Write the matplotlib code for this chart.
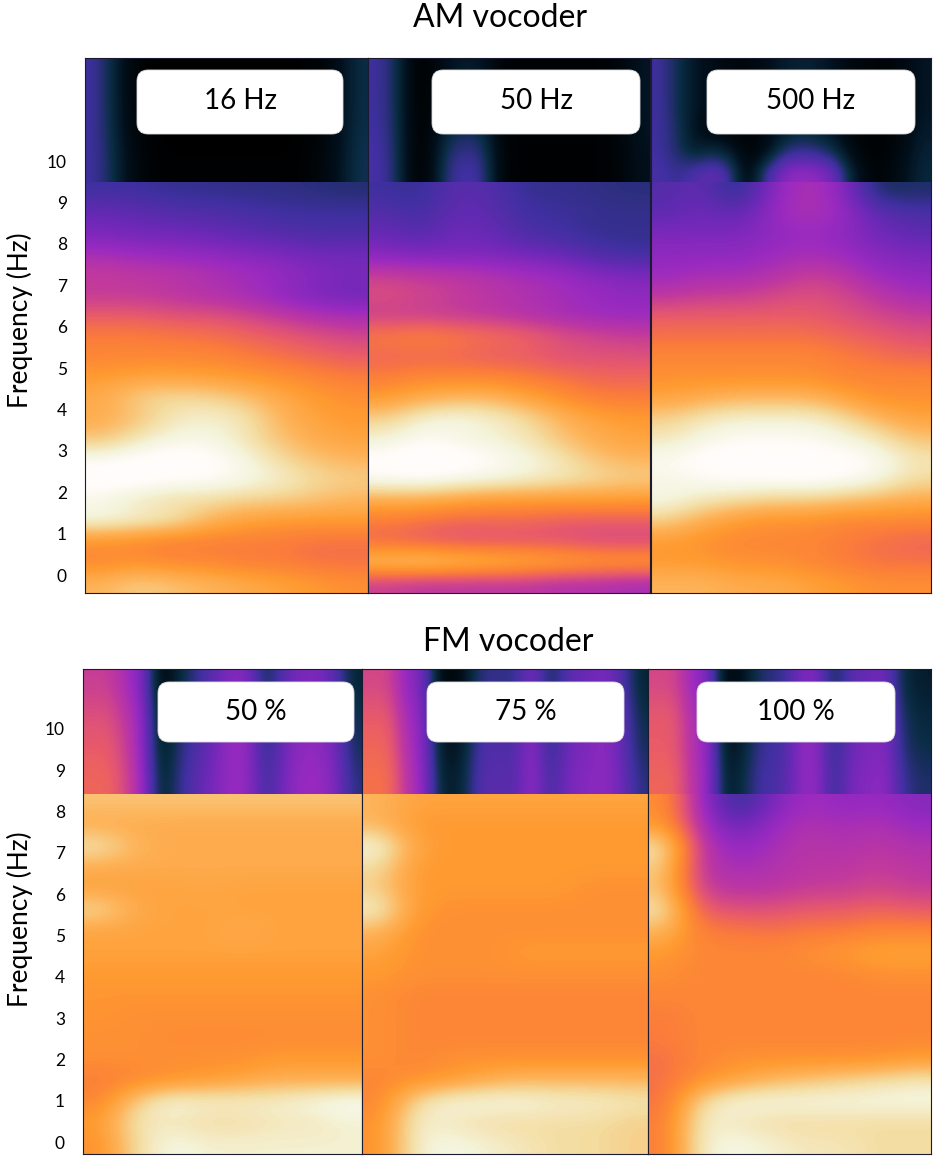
import numpy as np
import matplotlib
matplotlib.use("Agg")
import matplotlib.pyplot as plt
from matplotlib.colors import LinearSegmentedColormap
from matplotlib.patches import FancyBboxPatch

# ---------------- data (intensity 0..1) ----------------
titles = ["AM vocoder", "FM vocoder"]
am_labels = ["16 Hz", "50 Hz", "500 Hz"]
fm_labels = ["50 %", "75 %", "100 %"]
tick_values = list(range(11))
tick_labels = [str(v) for v in tick_values]
ylabel_text = "Frequency (Hz)"

# AM panels: rows top (9.25) -> bottom (-0.25), 8 time columns
am16_lo = [
    [0.30, 0.30, 0.28, 0.28, 0.27, 0.27, 0.26, 0.25],
    [0.38, 0.36, 0.34, 0.33, 0.32, 0.30, 0.30, 0.30],
    [0.42, 0.40, 0.40, 0.38, 0.36, 0.34, 0.32, 0.32],
    [0.50, 0.48, 0.47, 0.46, 0.44, 0.42, 0.40, 0.40],
    [0.56, 0.55, 0.54, 0.52, 0.50, 0.48, 0.44, 0.42],
    [0.55, 0.55, 0.54, 0.52, 0.50, 0.46, 0.42, 0.40],
    [0.62, 0.62, 0.60, 0.60, 0.58, 0.55, 0.52, 0.50],
    [0.68, 0.68, 0.67, 0.66, 0.64, 0.62, 0.60, 0.58],
    [0.70, 0.70, 0.70, 0.70, 0.68, 0.66, 0.64, 0.62],
    [0.74, 0.76, 0.76, 0.75, 0.74, 0.72, 0.70, 0.68],
    [0.78, 0.84, 0.86, 0.85, 0.82, 0.78, 0.74, 0.72],
    [0.78, 0.82, 0.88, 0.90, 0.88, 0.80, 0.76, 0.74],
    [0.82, 0.88, 0.92, 0.92, 0.88, 0.82, 0.78, 0.76],
    [0.94, 0.96, 0.97, 0.96, 0.92, 0.86, 0.82, 0.80],
    [0.97, 0.97, 0.95, 0.95, 0.93, 0.90, 0.86, 0.84],
    [0.92, 0.88, 0.86, 0.86, 0.84, 0.84, 0.82, 0.80],
    [0.92, 0.90, 0.88, 0.80, 0.76, 0.74, 0.74, 0.74],
    [0.72, 0.70, 0.68, 0.68, 0.68, 0.68, 0.66, 0.66],
    [0.70, 0.72, 0.70, 0.70, 0.68, 0.68, 0.66, 0.66],
    [0.80, 0.84, 0.82, 0.80, 0.78, 0.76, 0.74, 0.72],
]
am16_hi = [
    [0.30, 0.20, 0.05, 0.01, 0.00, 0.00, 0.00, 0.00, 0.00, 0.00, 0.00, 0.00, 0.01, 0.03, 0.10, 0.20],
    [0.30, 0.20, 0.05, 0.01, 0.00, 0.00, 0.00, 0.00, 0.00, 0.00, 0.00, 0.00, 0.01, 0.03, 0.10, 0.20],
    [0.30, 0.22, 0.08, 0.03, 0.01, 0.01, 0.01, 0.01, 0.01, 0.01, 0.01, 0.01, 0.02, 0.05, 0.12, 0.22],
]
am50_lo = [
    [0.30, 0.28, 0.36, 0.34, 0.28, 0.28, 0.27, 0.26],
    [0.34, 0.30, 0.38, 0.36, 0.30, 0.30, 0.28, 0.28],
    [0.38, 0.34, 0.40, 0.38, 0.32, 0.30, 0.28, 0.28],
    [0.44, 0.42, 0.42, 0.42, 0.40, 0.38, 0.32, 0.30],
    [0.56, 0.55, 0.54, 0.52, 0.50, 0.48, 0.44, 0.42],
    [0.60, 0.58, 0.56, 0.54, 0.52, 0.50, 0.48, 0.46],
    [0.56, 0.56, 0.55, 0.54, 0.52, 0.50, 0.48, 0.48],
    [0.68, 0.70, 0.68, 0.66, 0.64, 0.60, 0.58, 0.56],
    [0.64, 0.64, 0.64, 0.62, 0.62, 0.60, 0.60, 0.60],
    [0.68, 0.70, 0.70, 0.70, 0.68, 0.66, 0.64, 0.64],
    [0.74, 0.78, 0.80, 0.80, 0.76, 0.72, 0.68, 0.68],
    [0.84, 0.90, 0.92, 0.90, 0.86, 0.80, 0.76, 0.74],
    [0.90, 0.94, 0.92, 0.90, 0.88, 0.82, 0.78, 0.76],
    [0.96, 0.98, 0.97, 0.95, 0.92, 0.88, 0.82, 0.80],
    [0.94, 0.95, 0.93, 0.92, 0.90, 0.88, 0.86, 0.84],
    [0.78, 0.78, 0.76, 0.74, 0.74, 0.74, 0.74, 0.74],
    [0.68, 0.66, 0.64, 0.64, 0.64, 0.62, 0.62, 0.62],
    [0.64, 0.62, 0.60, 0.60, 0.60, 0.60, 0.58, 0.58],
    [0.84, 0.86, 0.84, 0.82, 0.80, 0.78, 0.76, 0.76],
    [0.56, 0.54, 0.54, 0.54, 0.54, 0.52, 0.52, 0.50],
]
am50_hi = [
    [0.30, 0.24, 0.03, 0.02, 0.10, 0.14, 0.12, 0.03, 0.01, 0.01, 0.01, 0.01, 0.01, 0.02, 0.05, 0.12],
    [0.30, 0.24, 0.03, 0.02, 0.14, 0.18, 0.16, 0.03, 0.01, 0.01, 0.01, 0.01, 0.01, 0.02, 0.05, 0.12],
    [0.32, 0.26, 0.03, 0.04, 0.28, 0.32, 0.30, 0.05, 0.01, 0.01, 0.01, 0.01, 0.01, 0.02, 0.04, 0.10],
]
am500_lo = [
    [0.34, 0.38, 0.24, 0.46, 0.52, 0.46, 0.22, 0.24],
    [0.36, 0.40, 0.36, 0.48, 0.52, 0.48, 0.36, 0.32],
    [0.42, 0.42, 0.42, 0.46, 0.48, 0.46, 0.40, 0.36],
    [0.46, 0.46, 0.46, 0.48, 0.50, 0.48, 0.44, 0.42],
    [0.48, 0.50, 0.50, 0.52, 0.56, 0.54, 0.48, 0.46],
    [0.54, 0.56, 0.56, 0.58, 0.60, 0.58, 0.54, 0.50],
    [0.62, 0.62, 0.62, 0.62, 0.62, 0.60, 0.58, 0.56],
    [0.66, 0.66, 0.66, 0.66, 0.66, 0.64, 0.62, 0.60],
    [0.70, 0.70, 0.70, 0.70, 0.70, 0.68, 0.66, 0.64],
    [0.72, 0.72, 0.72, 0.72, 0.72, 0.70, 0.70, 0.70],
    [0.76, 0.78, 0.80, 0.80, 0.80, 0.76, 0.72, 0.72],
    [0.84, 0.88, 0.90, 0.90, 0.90, 0.86, 0.80, 0.76],
    [0.88, 0.92, 0.94, 0.94, 0.94, 0.92, 0.88, 0.82],
    [0.94, 0.96, 0.97, 0.97, 0.96, 0.96, 0.94, 0.88],
    [0.92, 0.94, 0.95, 0.95, 0.96, 0.95, 0.92, 0.86],
    [0.92, 0.88, 0.86, 0.84, 0.84, 0.82, 0.80, 0.78],
    [0.84, 0.78, 0.74, 0.72, 0.72, 0.70, 0.70, 0.70],
    [0.74, 0.72, 0.70, 0.70, 0.70, 0.68, 0.66, 0.64],
    [0.74, 0.74, 0.72, 0.72, 0.70, 0.68, 0.66, 0.66],
    [0.80, 0.80, 0.78, 0.78, 0.76, 0.74, 0.72, 0.72],
]
am500_hi = [
    [0.30, 0.22, 0.12, 0.08, 0.05, 0.04, 0.08, 0.14, 0.16, 0.15, 0.10, 0.05, 0.03, 0.03, 0.06, 0.12],
    [0.30, 0.22, 0.12, 0.08, 0.05, 0.04, 0.08, 0.14, 0.16, 0.15, 0.10, 0.05, 0.03, 0.03, 0.06, 0.12],
    [0.30, 0.22, 0.12, 0.08, 0.05, 0.04, 0.08, 0.14, 0.16, 0.15, 0.10, 0.05, 0.03, 0.03, 0.06, 0.12],
    [0.30, 0.24, 0.10, 0.04, 0.02, 0.02, 0.06, 0.12, 0.18, 0.16, 0.10, 0.04, 0.02, 0.02, 0.06, 0.14],
    [0.30, 0.24, 0.14, 0.20, 0.14, 0.02, 0.05, 0.24, 0.28, 0.26, 0.20, 0.05, 0.02, 0.02, 0.08, 0.16],
    [0.32, 0.28, 0.34, 0.38, 0.32, 0.03, 0.30, 0.44, 0.48, 0.46, 0.40, 0.16, 0.03, 0.04, 0.10, 0.18],
]

# FM panels: lower rows top (8.2) -> bottom (0.0), 8 time columns
fm50_lo = [
    [0.82, 0.82, 0.82, 0.82, 0.82, 0.82, 0.82, 0.82],
    [0.78, 0.78, 0.78, 0.78, 0.78, 0.78, 0.78, 0.78],
    [0.88, 0.80, 0.78, 0.78, 0.78, 0.78, 0.78, 0.78],
    [0.78, 0.78, 0.78, 0.78, 0.78, 0.78, 0.78, 0.78],
    [0.76, 0.76, 0.76, 0.77, 0.76, 0.76, 0.76, 0.76],
    [0.86, 0.78, 0.76, 0.76, 0.76, 0.76, 0.76, 0.76],
    [0.76, 0.76, 0.76, 0.76, 0.78, 0.76, 0.76, 0.76],
    [0.76, 0.76, 0.76, 0.76, 0.76, 0.76, 0.76, 0.76],
    [0.74, 0.74, 0.74, 0.74, 0.74, 0.74, 0.74, 0.74],
    [0.73, 0.73, 0.73, 0.73, 0.73, 0.73, 0.73, 0.73],
    [0.73, 0.72, 0.72, 0.72, 0.72, 0.72, 0.72, 0.72],
    [0.72, 0.72, 0.71, 0.71, 0.71, 0.71, 0.71, 0.71],
    [0.72, 0.72, 0.72, 0.72, 0.72, 0.74, 0.74, 0.74],
    [0.68, 0.70, 0.72, 0.74, 0.76, 0.78, 0.78, 0.78],
    [0.70, 0.84, 0.92, 0.90, 0.90, 0.90, 0.92, 0.94],
    [0.74, 0.88, 0.88, 0.86, 0.86, 0.88, 0.88, 0.90],
    [0.72, 0.86, 0.92, 0.90, 0.90, 0.90, 0.90, 0.90],
]
fm50_hi = [
    [0.56, 0.56, 0.50, 0.42, 0.03, 0.18, 0.28, 0.36, 0.44, 0.42, 0.20, 0.36, 0.42, 0.42, 0.34, 0.16],
    [0.60, 0.60, 0.54, 0.46, 0.08, 0.24, 0.32, 0.40, 0.48, 0.46, 0.24, 0.40, 0.46, 0.46, 0.38, 0.20],
    [0.62, 0.62, 0.56, 0.46, 0.10, 0.26, 0.32, 0.40, 0.48, 0.46, 0.26, 0.40, 0.46, 0.46, 0.40, 0.22],
    [0.64, 0.64, 0.58, 0.48, 0.14, 0.28, 0.36, 0.42, 0.48, 0.46, 0.30, 0.42, 0.48, 0.48, 0.42, 0.26],
]
fm75_lo = [
    [0.80, 0.76, 0.76, 0.76, 0.76, 0.76, 0.76, 0.76],
    [0.80, 0.74, 0.74, 0.74, 0.74, 0.74, 0.74, 0.74],
    [0.92, 0.76, 0.74, 0.74, 0.74, 0.74, 0.74, 0.74],
    [0.86, 0.74, 0.74, 0.74, 0.74, 0.74, 0.74, 0.74],
    [0.84, 0.74, 0.74, 0.74, 0.74, 0.74, 0.72, 0.72],
    [0.90, 0.74, 0.72, 0.72, 0.72, 0.72, 0.72, 0.72],
    [0.80, 0.72, 0.72, 0.72, 0.72, 0.72, 0.72, 0.72],
    [0.76, 0.72, 0.72, 0.72, 0.74, 0.74, 0.74, 0.74],
    [0.74, 0.72, 0.72, 0.72, 0.72, 0.72, 0.72, 0.72],
    [0.72, 0.70, 0.70, 0.70, 0.70, 0.70, 0.70, 0.70],
    [0.72, 0.70, 0.70, 0.70, 0.70, 0.70, 0.70, 0.70],
    [0.72, 0.70, 0.70, 0.70, 0.70, 0.70, 0.70, 0.70],
    [0.72, 0.70, 0.72, 0.72, 0.72, 0.72, 0.72, 0.72],
    [0.70, 0.72, 0.74, 0.78, 0.80, 0.80, 0.80, 0.80],
    [0.70, 0.86, 0.92, 0.92, 0.92, 0.90, 0.90, 0.88],
    [0.72, 0.90, 0.88, 0.86, 0.86, 0.86, 0.86, 0.84],
    [0.72, 0.90, 0.92, 0.90, 0.88, 0.86, 0.86, 0.84],
]
fm75_hi = [
    [0.58, 0.58, 0.46, 0.40, 0.03, 0.06, 0.26, 0.28, 0.26, 0.44, 0.20, 0.36, 0.38, 0.42, 0.34, 0.16],
    [0.62, 0.62, 0.50, 0.44, 0.08, 0.10, 0.30, 0.32, 0.30, 0.48, 0.24, 0.40, 0.42, 0.46, 0.38, 0.20],
    [0.64, 0.64, 0.52, 0.44, 0.10, 0.12, 0.32, 0.34, 0.32, 0.48, 0.26, 0.40, 0.42, 0.46, 0.38, 0.22],
    [0.66, 0.66, 0.54, 0.46, 0.14, 0.16, 0.34, 0.36, 0.34, 0.48, 0.30, 0.42, 0.44, 0.46, 0.40, 0.26],
]
fm100_lo = [
    [0.72, 0.50, 0.26, 0.42, 0.50, 0.46, 0.48, 0.44],
    [0.74, 0.52, 0.38, 0.48, 0.52, 0.50, 0.52, 0.48],
    [0.88, 0.54, 0.46, 0.50, 0.54, 0.52, 0.54, 0.52],
    [0.84, 0.54, 0.50, 0.52, 0.54, 0.54, 0.56, 0.54],
    [0.82, 0.56, 0.54, 0.54, 0.56, 0.56, 0.58, 0.56],
    [0.88, 0.62, 0.60, 0.60, 0.62, 0.62, 0.64, 0.62],
    [0.80, 0.68, 0.68, 0.66, 0.68, 0.68, 0.70, 0.70],
    [0.74, 0.70, 0.70, 0.70, 0.72, 0.74, 0.76, 0.76],
    [0.72, 0.70, 0.70, 0.70, 0.70, 0.70, 0.72, 0.72],
    [0.70, 0.70, 0.70, 0.70, 0.70, 0.70, 0.70, 0.70],
    [0.68, 0.70, 0.70, 0.70, 0.70, 0.70, 0.70, 0.70],
    [0.68, 0.70, 0.70, 0.70, 0.70, 0.70, 0.70, 0.70],
    [0.66, 0.70, 0.72, 0.72, 0.72, 0.72, 0.72, 0.74],
    [0.66, 0.72, 0.76, 0.80, 0.82, 0.84, 0.86, 0.88],
    [0.66, 0.86, 0.92, 0.92, 0.92, 0.92, 0.92, 0.92],
    [0.68, 0.90, 0.88, 0.86, 0.86, 0.86, 0.86, 0.86],
    [0.68, 0.90, 0.92, 0.90, 0.88, 0.88, 0.86, 0.86],
]
fm100_hi = [
    [0.58, 0.58, 0.48, 0.42, 0.02, 0.12, 0.26, 0.26, 0.40, 0.44, 0.20, 0.36, 0.38, 0.40, 0.18, 0.14],
    [0.62, 0.62, 0.52, 0.46, 0.06, 0.16, 0.30, 0.30, 0.44, 0.48, 0.24, 0.40, 0.42, 0.44, 0.22, 0.18],
    [0.62, 0.62, 0.52, 0.46, 0.08, 0.18, 0.30, 0.30, 0.44, 0.48, 0.26, 0.40, 0.42, 0.44, 0.24, 0.20],
    [0.64, 0.64, 0.54, 0.46, 0.12, 0.22, 0.32, 0.32, 0.44, 0.48, 0.28, 0.42, 0.44, 0.46, 0.28, 0.24],
]

# ---------------- styling ----------------
W, H = 935, 1158
plt.rcParams['font.family'] = ['Lato', 'DejaVu Sans']

cmap = LinearSegmentedColormap.from_list("spec", [
    (0.00, "#000000"), (0.10, "#02101c"), (0.20, "#0a2d45"),
    (0.30, "#4030a0"), (0.40, "#7028b8"), (0.48, "#9a2ac0"),
    (0.55, "#c0389f"), (0.62, "#e85a6a"), (0.68, "#fb7c3a"),
    (0.74, "#ff9a30"), (0.80, "#fdb45a"), (0.86, "#f4dca0"),
    (0.91, "#f4f4dc"), (0.95, "#fffcfa"), (1.00, "#ffffff")])

fig = plt.figure(figsize=(W / 100, H / 100), dpi=100)


def rect(x0, y0, x1, y1):
    return [x0 / W, 1 - y1 / H, (x1 - x0) / W, (y1 - y0) / H]


am_panels = [(85, 368, am16_lo, am16_hi), (368, 650, am50_lo, am50_hi),
             (651, 931, am500_lo, am500_hi)]
fm_panels = [(83, 362, fm50_lo, fm50_hi), (362, 648, fm75_lo, fm75_hi),
             (648, 931, fm100_lo, fm100_hi)]

rows = [
    dict(panels=am_panels, y0=58, y1=593, ymin=-0.43, ymax=12.49, cut=9.5),
    dict(panels=fm_panels, y0=669, y1=1154, ymin=-0.29, ymax=11.45, cut=8.43),
]

for r in rows:
    for i, (x0, x1, lo, hi) in enumerate(r["panels"]):
        ax = fig.add_axes(rect(x0, r["y0"], x1, r["y1"]))
        ax.imshow(np.array(lo), extent=(0, 1, r["ymin"], r["cut"]), aspect="auto",
                  cmap=cmap, vmin=0, vmax=1, interpolation="bicubic", origin="upper")
        ax.imshow(np.array(hi), extent=(0, 1, r["cut"], r["ymax"]), aspect="auto",
                  cmap=cmap, vmin=0, vmax=1, interpolation="bicubic", origin="upper")
        ax.set_xlim(0, 1)
        ax.set_ylim(r["ymin"], r["ymax"])
        ax.set_xticks([])
        if i == 0:
            ax.set_yticks(tick_values)
            ax.set_yticklabels(tick_labels)
            ax.tick_params(axis="y", length=0, pad=13, labelsize=12.5)
        else:
            ax.set_yticks([])
        for s in ax.spines.values():
            s.set_color("#1a1a30")
            s.set_linewidth(0.8)

# overlay in pixel coordinates for titles, label boxes and y labels
ov = fig.add_axes([0, 0, 1, 1])
ov.set_xlim(0, W)
ov.set_ylim(H, 0)
ov.axis("off")

ov.text(500, 18, titles[0], ha="center", va="center", fontsize=23)
ov.text(508, 642, titles[1], ha="center", va="center", fontsize=23)

ov.text(20, 320, ylabel_text, rotation=90, ha="center", va="center", fontsize=19)
ov.text(20, 919, ylabel_text, rotation=90, ha="center", va="center", fontsize=19)

am_boxes = [(137, 343), (432, 640), (707, 915)]
fm_boxes = [(158, 354), (427, 624), (697, 895)]
for (bx0, bx1), lab in zip(am_boxes, am_labels):
    ov.add_patch(FancyBboxPatch((bx0, 70), bx1 - bx0, 64,
                                boxstyle="round,pad=0,rounding_size=11",
                                facecolor="white", edgecolor="#dddddd", linewidth=0.6))
    ov.text((bx0 + bx1) / 2, 101, lab, ha="center", va="center", fontsize=20)
for (bx0, bx1), lab in zip(fm_boxes, fm_labels):
    ov.add_patch(FancyBboxPatch((bx0, 682), bx1 - bx0, 60,
                                boxstyle="round,pad=0,rounding_size=11",
                                facecolor="white", edgecolor="#dddddd", linewidth=0.6))
    ov.text((bx0 + bx1) / 2, 712, lab, ha="center", va="center", fontsize=20)

fig.savefig("out.png", dpi=100)
